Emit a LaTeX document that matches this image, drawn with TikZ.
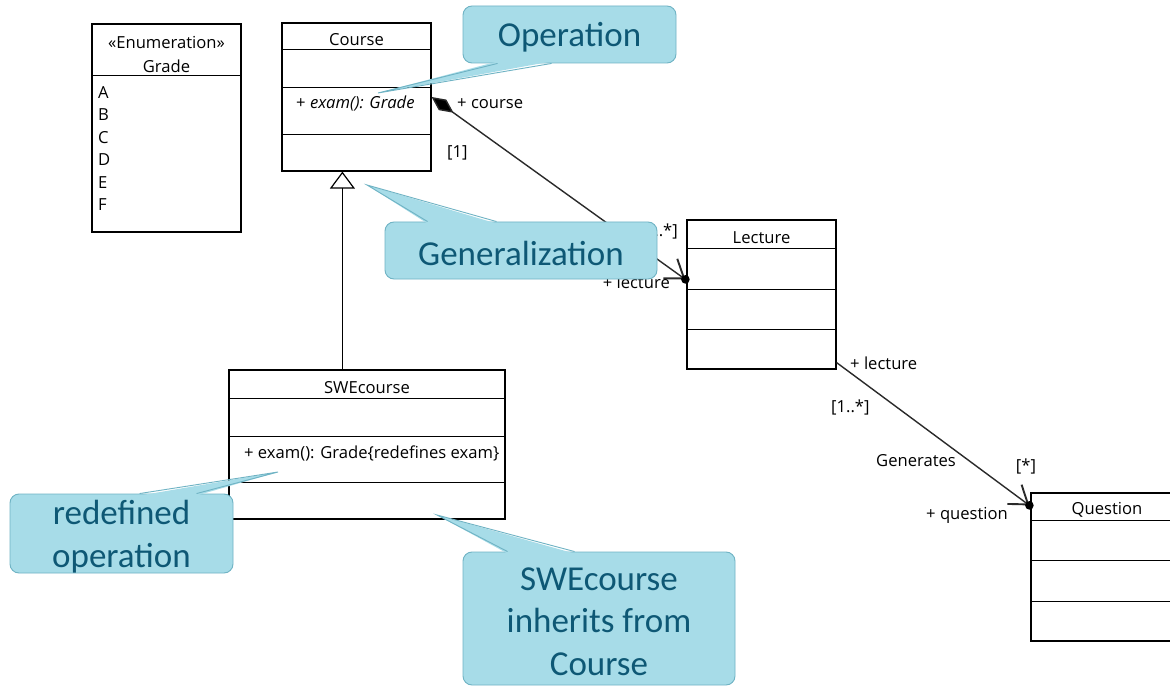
\documentclass[tikz,border=0pt]{standalone}
\usepackage{fontspec}
\setmainfont{Open Sans}
\newfontfamily\callfont{Carlito}
\usetikzlibrary{arrows.meta,calc}

\definecolor{callfill}{HTML}{A7DCE8}
\definecolor{callline}{HTML}{6FB3C4}
\definecolor{calltext}{HTML}{0E5875}
\definecolor{assocline}{HTML}{2A2A2A}

\begin{document}
\begin{tikzpicture}[x=1pt,y=-1pt,
  umlbox/.style={draw=black, line width=1.2pt, rectangle, inner sep=0pt},
  umlline/.style={draw=black, line width=1.2pt},
  umltext/.style={font=\fontsize{16.6}{19}\selectfont, inner sep=0pt},
  assoc/.style={draw=assocline, line width=1.4pt},
  callbox/.style={fill=callfill, draw=callline, line width=0.9pt, rounded corners=9pt, inner sep=0pt},
  calltxt/.style={inner sep=0pt, text=calltext, align=center,
    font=\callfont\fontsize{35}{42.5}\selectfont},
  callptr/.style={fill=callfill},
  callptredge/.style={draw=callline, line width=0.9pt, line join=miter},
  navtip/.style={-{Straight Barb[length=17pt, width=24pt, line width=1.9pt]}}
]
\useasboundingbox (0,0) rectangle (1170,687);
\fill[white] (0,0) rectangle (1170,687);

% ---------- Grade enumeration ----------
\node[umlbox, minimum width=149pt, minimum height=208pt] (grade) at (166.5,128) {};
\draw[umlline] ($(grade.north west)+(0,52)$) -- ++(151,0);
\node[umltext] (gradeSt) at (166.5,42) {«Enumeration»};
\node[umltext] (gradeNm) at (166.5,66) {Grade};
\node[umltext, anchor=west] (litA) at (98,93)  {A};
\node[umltext, anchor=west] (litB) at (98,115) {B};
\node[umltext, anchor=west] (litC) at (98,138) {C};
\node[umltext, anchor=west] (litD) at (98,160) {D};
\node[umltext, anchor=west] (litE) at (98,183) {E};
\node[umltext, anchor=west] (litF) at (98,205) {F};

% ---------- Course ----------
\node[umlbox, minimum width=149pt, minimum height=148pt] (course) at (356.5,97) {};
\draw[umlline] ($(course.north west)+(0,27)$) -- ++(151,0);
\draw[umlline] ($(course.north west)+(0,65)$) -- ++(151,0);
\draw[umlline] ($(course.north west)+(0,112)$) -- ++(151,0);
\node[umltext] (courseNm) at (356.5,40) {Course};
\node[umltext, anchor=west] (courseOp) at (296,104) {+ \textit{exam(): Grade}};

% ---------- SWEcourse ----------
\node[umlbox, minimum width=276pt, minimum height=149pt] (swe) at (367,444.5) {};
\draw[umlline] ($(swe.north west)+(0,29)$) -- ++(278,0);
\draw[umlline] ($(swe.north west)+(0,67)$) -- ++(278,0);
\draw[umlline] ($(swe.north west)+(0,113)$) -- ++(278,0);
\node[umltext] (sweNm) at (367,388) {SWEcourse};
\node[umltext, anchor=west] (sweOp) at (244,453) {+ exam(): Grade\{redefines exam\}};

% ---------- Lecture ----------
\node[umlbox, minimum width=149pt, minimum height=149pt] (lecture) at (761.5,294.5) {};
\draw[umlline] ($(lecture.north west)+(0,29)$) -- ++(151,0);
\draw[umlline] ($(lecture.north west)+(0,70)$) -- ++(151,0);
\draw[umlline] ($(lecture.north west)+(0,110)$) -- ++(151,0);
\node[umltext] (lectureNm) at (761.5,238) {Lecture};

% ---------- Question ----------
\node[umlbox, minimum width=149pt, minimum height=148pt] (question) at (1105.5,567) {};
\draw[umlline] ($(question.north west)+(0,28)$) -- ++(151,0);
\draw[umlline] ($(question.north west)+(0,68)$) -- ++(151,0);
\draw[umlline] ($(question.north west)+(0,109)$) -- ++(151,0);
\node[umltext] (questionNm) at (1107,510) {Question};

% ---------- Generalization ----------
\draw[umlline, -{Triangle[open, length=17pt, width=25pt, line width=1.2pt]}]
  ($(swe.north west)+(114,0)$) -- ($(course.south west)+(61,0)$);

% ---------- Course <>-- Lecture ----------
\coordinate (lecEnd) at ($(lecture.north west)+(-1,60)$);
\draw[assoc, {Diamond[length=27pt, width=13pt, fill=black]}-{Straight Barb[length=17pt, width=24pt, line width=1.9pt]}]
  (course.east) -- (lecEnd);
\fill[black] (lecEnd) circle (4.3);
\node[umltext, anchor=west] (lCourse) at (457,104) {+ course};
\node[umltext, anchor=west] (lOne) at (447,153) {[1]};
\node[umltext, anchor=east] (lMany1) at (678,232) {[1..*]};
\node[umltext, anchor=east] (lLect1) at (670,282) {+ lecture};

% ---------- Lecture -- Question (Generates) ----------
\coordinate (lecStart) at ($(lecture.south east)+(0,-7)$);
\coordinate (qEnd) at ($(question.north west)+(-1,13)$);
\draw[assoc, navtip] (lecStart) -- (qEnd);
\fill[black] (qEnd) circle (4.3);
\node[umltext, anchor=west] (lLect2) at (850,363) {+ lecture};
\node[umltext, anchor=west] (lMany2) at (831,408) {[1..*]};
\node[umltext, anchor=west] (lGen) at (876,461) {Generates};
\node[umltext] (lStar) at (1026,467) {[*]};
\node[umltext, anchor=west] (lQuest) at (926,515) {+ question};

% ---------- Callouts ----------
% Operation
\node[callbox, minimum width=213pt, minimum height=57pt] (opcall) at (569.5,34.5) {};
\coordinate (opTip) at (378,93);
\fill[callptr] ($(opcall.south west)+(35,-2)$) -- (opTip) -- ($(opcall.south west)+(89,-2)$) -- cycle;
\draw[callptredge] ($(opcall.south west)+(35,0)$) -- (opTip) -- ($(opcall.south west)+(89,0)$);
\node[calltxt] (optxt) at ($(opcall.center)+(0,3)$) {Operation};

% Generalization
\node[callbox, minimum width=272pt, minimum height=57pt] (gencall) at (521,250.5) {};
\coordinate (genTip) at (367,185);
\fill[callptr] ($(gencall.north west)+(43,2)$) -- (genTip) -- ($(gencall.north west)+(112,2)$) -- cycle;
\draw[callptredge] ($(gencall.north west)+(43,0)$) -- (genTip) -- ($(gencall.north west)+(112,0)$);
\node[calltxt] (gentxt) at ($(gencall.center)+(0,3)$) {Generalization};

% redefined operation
\node[callbox, minimum width=223pt, minimum height=79pt] (redcall) at (121.5,533.5) {};
\coordinate (redTip) at (278,472);
\fill[callptr] ($(redcall.north west)+(130,2)$) -- (redTip) -- ($(redcall.north west)+(187,2)$) -- cycle;
\draw[callptredge] ($(redcall.north west)+(130,0)$) -- (redTip) -- ($(redcall.north west)+(187,0)$);
\node[calltxt] (redtxt) at ($(redcall.center)+(0,3)$) {redefined\\operation};

% SWEcourse inherits from Course
\node[callbox, minimum width=272pt, minimum height=133pt] (inhcall) at (599,618.5) {};
\coordinate (inhTip) at (437,515);
\fill[callptr] ($(inhcall.north west)+(45,2)$) -- (inhTip) -- ($(inhcall.north west)+(112,2)$) -- cycle;
\draw[callptredge] ($(inhcall.north west)+(45,0)$) -- (inhTip) -- ($(inhcall.north west)+(112,0)$);
\node[calltxt] (inhtxt) at ($(inhcall.center)+(0,3)$) {SWEcourse\\inherits from\\Course};
\end{tikzpicture}
\end{document}
